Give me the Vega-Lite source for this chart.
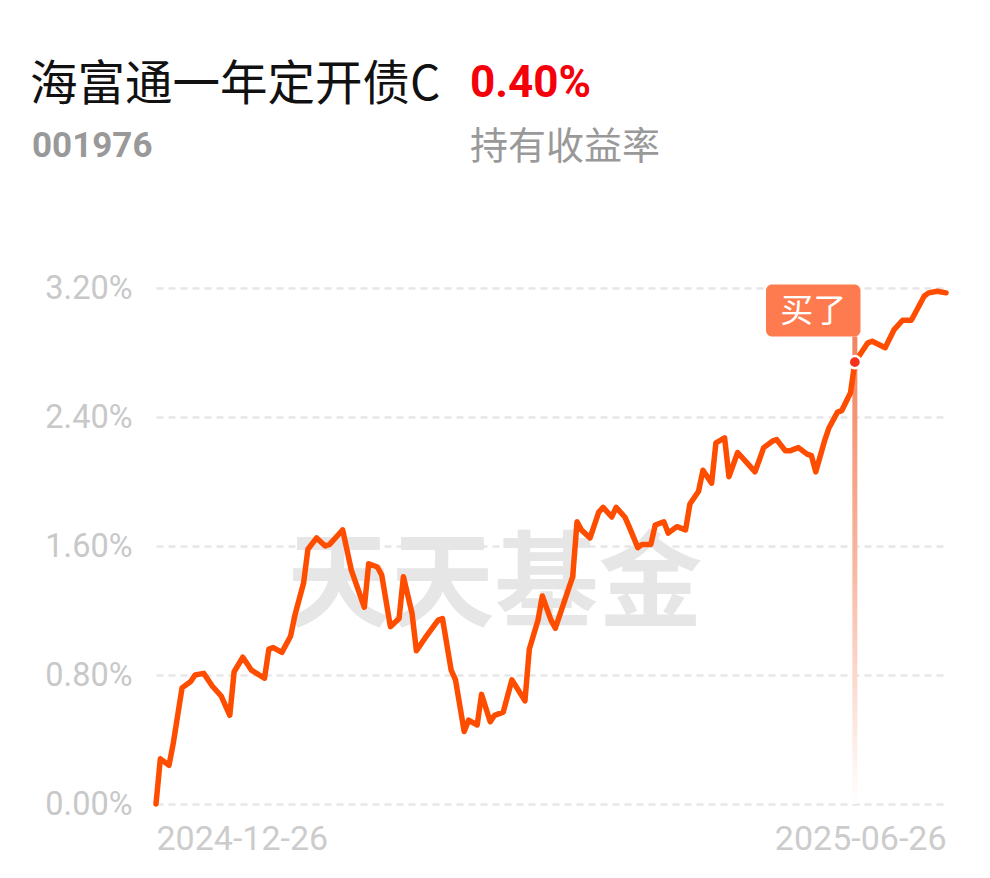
{
  "$schema": "https://vega.github.io/schema/vega-lite/v6.json",
  "width": 790,
  "height": 516,
  "autosize": {"type": "none"},
  "padding": {"left": 156, "top": 288, "right": 44, "bottom": 74},
  "background": "#ffffff",
  "config": {"view": {"stroke": null}, "font": "Roboto", "scale": {"continuousPadding": 0}},
  "datasets": {
    "nav": [
      {"date": "2024-12-26", "ret": 0.00},
      {"date": "2024-12-27", "ret": 0.28},
      {"date": "2024-12-29", "ret": 0.24},
      {"date": "2024-12-30", "ret": 0.38},
      {"date": "2025-01-01", "ret": 0.72},
      {"date": "2025-01-03", "ret": 0.76},
      {"date": "2025-01-04", "ret": 0.80},
      {"date": "2025-01-06", "ret": 0.81},
      {"date": "2025-01-08", "ret": 0.73},
      {"date": "2025-01-10", "ret": 0.67},
      {"date": "2025-01-12", "ret": 0.55},
      {"date": "2025-01-13", "ret": 0.82},
      {"date": "2025-01-15", "ret": 0.91},
      {"date": "2025-01-17", "ret": 0.83},
      {"date": "2025-01-20", "ret": 0.78},
      {"date": "2025-01-21", "ret": 0.96},
      {"date": "2025-01-22", "ret": 0.97},
      {"date": "2025-01-24", "ret": 0.94},
      {"date": "2025-01-26", "ret": 1.04},
      {"date": "2025-01-27", "ret": 1.17},
      {"date": "2025-01-29", "ret": 1.37},
      {"date": "2025-01-30", "ret": 1.58},
      {"date": "2025-02-01", "ret": 1.65},
      {"date": "2025-02-03", "ret": 1.60},
      {"date": "2025-02-04", "ret": 1.61},
      {"date": "2025-02-06", "ret": 1.67},
      {"date": "2025-02-07", "ret": 1.70},
      {"date": "2025-02-09", "ret": 1.45},
      {"date": "2025-02-12", "ret": 1.22},
      {"date": "2025-02-13", "ret": 1.49},
      {"date": "2025-02-15", "ret": 1.47},
      {"date": "2025-02-16", "ret": 1.42},
      {"date": "2025-02-18", "ret": 1.10},
      {"date": "2025-02-20", "ret": 1.15},
      {"date": "2025-02-21", "ret": 1.41},
      {"date": "2025-02-23", "ret": 1.18},
      {"date": "2025-02-24", "ret": 0.95},
      {"date": "2025-02-26", "ret": 1.03},
      {"date": "2025-03-01", "ret": 1.14},
      {"date": "2025-03-02", "ret": 1.15},
      {"date": "2025-03-04", "ret": 0.83},
      {"date": "2025-03-05", "ret": 0.77},
      {"date": "2025-03-07", "ret": 0.45},
      {"date": "2025-03-08", "ret": 0.52},
      {"date": "2025-03-10", "ret": 0.49},
      {"date": "2025-03-11", "ret": 0.68},
      {"date": "2025-03-13", "ret": 0.51},
      {"date": "2025-03-14", "ret": 0.55},
      {"date": "2025-03-16", "ret": 0.57},
      {"date": "2025-03-18", "ret": 0.77},
      {"date": "2025-03-21", "ret": 0.64},
      {"date": "2025-03-22", "ret": 0.96},
      {"date": "2025-03-24", "ret": 1.14},
      {"date": "2025-03-25", "ret": 1.29},
      {"date": "2025-03-27", "ret": 1.14},
      {"date": "2025-03-28", "ret": 1.09},
      {"date": "2025-03-30", "ret": 1.25},
      {"date": "2025-04-01", "ret": 1.41},
      {"date": "2025-04-02", "ret": 1.75},
      {"date": "2025-04-03", "ret": 1.70},
      {"date": "2025-04-05", "ret": 1.65},
      {"date": "2025-04-07", "ret": 1.81},
      {"date": "2025-04-08", "ret": 1.84},
      {"date": "2025-04-10", "ret": 1.78},
      {"date": "2025-04-11", "ret": 1.84},
      {"date": "2025-04-13", "ret": 1.78},
      {"date": "2025-04-14", "ret": 1.72},
      {"date": "2025-04-16", "ret": 1.59},
      {"date": "2025-04-17", "ret": 1.61},
      {"date": "2025-04-19", "ret": 1.61},
      {"date": "2025-04-20", "ret": 1.73},
      {"date": "2025-04-22", "ret": 1.75},
      {"date": "2025-04-23", "ret": 1.68},
      {"date": "2025-04-25", "ret": 1.72},
      {"date": "2025-04-27", "ret": 1.70},
      {"date": "2025-04-28", "ret": 1.86},
      {"date": "2025-04-30", "ret": 1.94},
      {"date": "2025-05-01", "ret": 2.07},
      {"date": "2025-05-03", "ret": 1.99},
      {"date": "2025-05-04", "ret": 2.24},
      {"date": "2025-05-06", "ret": 2.27},
      {"date": "2025-05-07", "ret": 2.03},
      {"date": "2025-05-09", "ret": 2.18},
      {"date": "2025-05-11", "ret": 2.12},
      {"date": "2025-05-13", "ret": 2.06},
      {"date": "2025-05-15", "ret": 2.21},
      {"date": "2025-05-17", "ret": 2.25},
      {"date": "2025-05-18", "ret": 2.26},
      {"date": "2025-05-20", "ret": 2.19},
      {"date": "2025-05-21", "ret": 2.19},
      {"date": "2025-05-23", "ret": 2.21},
      {"date": "2025-05-25", "ret": 2.17},
      {"date": "2025-05-26", "ret": 2.16},
      {"date": "2025-05-27", "ret": 2.06},
      {"date": "2025-05-29", "ret": 2.25},
      {"date": "2025-05-30", "ret": 2.33},
      {"date": "2025-06-01", "ret": 2.43},
      {"date": "2025-06-02", "ret": 2.44},
      {"date": "2025-06-04", "ret": 2.55},
      {"date": "2025-06-05", "ret": 2.74},
      {"date": "2025-06-08", "ret": 2.86},
      {"date": "2025-06-09", "ret": 2.87},
      {"date": "2025-06-12", "ret": 2.83},
      {"date": "2025-06-14", "ret": 2.94},
      {"date": "2025-06-16", "ret": 3.00},
      {"date": "2025-06-18", "ret": 3.00},
      {"date": "2025-06-19", "ret": 3.05},
      {"date": "2025-06-21", "ret": 3.15},
      {"date": "2025-06-22", "ret": 3.17},
      {"date": "2025-06-24", "ret": 3.18},
      {"date": "2025-06-26", "ret": 3.17}
    ],
    "buy": [{"date": "2025-06-05", "ret": 2.74, "tag": "买了"}],
    "header": [{"name": "海富通一年定开债C", "code": "001976", "hold": "0.40%", "holdLabel": "持有收益率", "wm": "天天基金"}]
  },
  "layer": [
    {
      "data": {"name": "header"},
      "mark": {"type": "text", "font": "Noto Sans CJK SC", "fontWeight": "bold", "fontSize": 104, "color": "#e6e6e6", "align": "center", "baseline": "middle"},
      "encoding": {
        "x": {"datum": {"year": 2025, "month": 3, "date": 14, "utc": true}, "type": "temporal"},
        "y": {"datum": 1.34, "type": "quantitative"},
        "text": {"field": "wm"}
      }
    },
    {
      "data": {"name": "buy"},
      "mark": {"type": "bar", "width": 5, "color": {"gradient": "linear", "x1": 0, "y1": 0, "x2": 0, "y2": 1, "stops": [{"offset": 0, "color": "#f3835f"}, {"offset": 0.5, "color": "#f8b8a2"}, {"offset": 1, "color": "#ffffff"}]}},
      "encoding": {
        "x": {"field": "date", "type": "temporal"},
        "y": {"datum": 2.9, "type": "quantitative"},
        "y2": {"datum": 0}
      }
    },
    {
      "data": {"name": "nav"},
      "mark": {"type": "line", "color": "#ff4d00", "strokeWidth": 5.5, "strokeJoin": "round", "strokeCap": "round"},
      "encoding": {
        "x": {
          "field": "date", "type": "temporal",
          "scale": {"type": "utc", "padding": 0, "domain": [{"year": 2024, "month": 12, "date": 26, "utc": true}, {"year": 2025, "month": 6, "date": 26, "utc": true}]},
          "axis": {
            "title": null, "domain": false, "ticks": false, "grid": false,
            "values": [{"year": 2024, "month": 12, "date": 26, "utc": true}, {"year": 2025, "month": 6, "date": 26, "utc": true}],
            "labelExpr": "utcFormat(datum.value, '%Y-%m-%d')", "labelFlush": true,
            "labelFont": "Roboto", "labelFontSize": 34, "labelColor": "#cccccc", "labelPadding": 18
          }
        },
        "y": {
          "field": "ret", "type": "quantitative",
          "scale": {"domain": [0, 3.2], "nice": false, "zero": true},
          "axis": {
            "title": null, "domain": false, "ticks": false, "grid": true,
            "values": [0, 0.8, 1.6, 2.4, 3.2],
            "labelExpr": "format(datum.value, '.2f') + '%'",
            "gridColor": "#e6e6e6", "gridDash": [7, 5], "gridWidth": 2.5,
            "labelFont": "Roboto", "labelFontSize": 32.5, "labelColor": "#c8c8c8", "labelPadding": 24
          }
        }
      }
    },
    {
      "data": {"name": "buy"},
      "mark": {"type": "bar", "width": 94.5, "xOffset": -41.6, "color": "#fd7b4f", "cornerRadius": 6},
      "encoding": {
        "x": {"field": "date", "type": "temporal"},
        "y": {"datum": 3.222, "type": "quantitative"},
        "y2": {"datum": 2.899}
      }
    },
    {
      "data": {"name": "buy"},
      "mark": {"type": "text", "xOffset": -41.6, "font": "Noto Sans CJK SC", "fontSize": 33, "color": "#ffffff", "align": "center", "baseline": "middle"},
      "encoding": {
        "x": {"field": "date", "type": "temporal"},
        "y": {"datum": 3.05, "type": "quantitative"},
        "text": {"field": "tag"}
      }
    },
    {
      "data": {"name": "buy"},
      "mark": {"type": "point", "filled": true, "size": 150, "color": "#f5321b", "stroke": "#ffffff", "strokeWidth": 2.5, "opacity": 1},
      "encoding": {
        "x": {"field": "date", "type": "temporal"},
        "y": {"field": "ret", "type": "quantitative"}
      }
    },
    {
      "data": {"name": "header"},
      "mark": {"type": "text", "font": "Noto Sans CJK SC", "fontSize": 47.5, "color": "#111111", "align": "left", "baseline": "middle", "dx": -126},
      "encoding": {
        "x": {"datum": {"year": 2024, "month": 12, "date": 26, "utc": true}, "type": "temporal"},
        "y": {"datum": 4.453, "type": "quantitative"},
        "text": {"field": "name"}
      }
    },
    {
      "data": {"name": "header"},
      "mark": {"type": "text", "font": "Roboto", "fontWeight": "bold", "fontSize": 35, "color": "#999999", "align": "left", "baseline": "middle", "dx": -124},
      "encoding": {
        "x": {"datum": {"year": 2024, "month": 12, "date": 26, "utc": true}, "type": "temporal"},
        "y": {"datum": 4.081, "type": "quantitative"},
        "text": {"field": "code"}
      }
    },
    {
      "data": {"name": "header"},
      "mark": {"type": "text", "font": "Roboto", "fontWeight": "bold", "fontSize": 44, "color": "#f5000a", "align": "left", "baseline": "middle", "dx": 1.5},
      "encoding": {
        "x": {"datum": {"year": 2025, "month": 3, "date": 8, "utc": true}, "type": "temporal"},
        "y": {"datum": 4.465, "type": "quantitative"},
        "text": {"field": "hold"}
      }
    },
    {
      "data": {"name": "header"},
      "mark": {"type": "text", "font": "Noto Sans CJK SC", "fontSize": 38, "color": "#999999", "align": "left", "baseline": "middle", "dx": 1.5},
      "encoding": {
        "x": {"datum": {"year": 2025, "month": 3, "date": 8, "utc": true}, "type": "temporal"},
        "y": {"datum": 4.071, "type": "quantitative"},
        "text": {"field": "holdLabel"}
      }
    }
  ]
}
